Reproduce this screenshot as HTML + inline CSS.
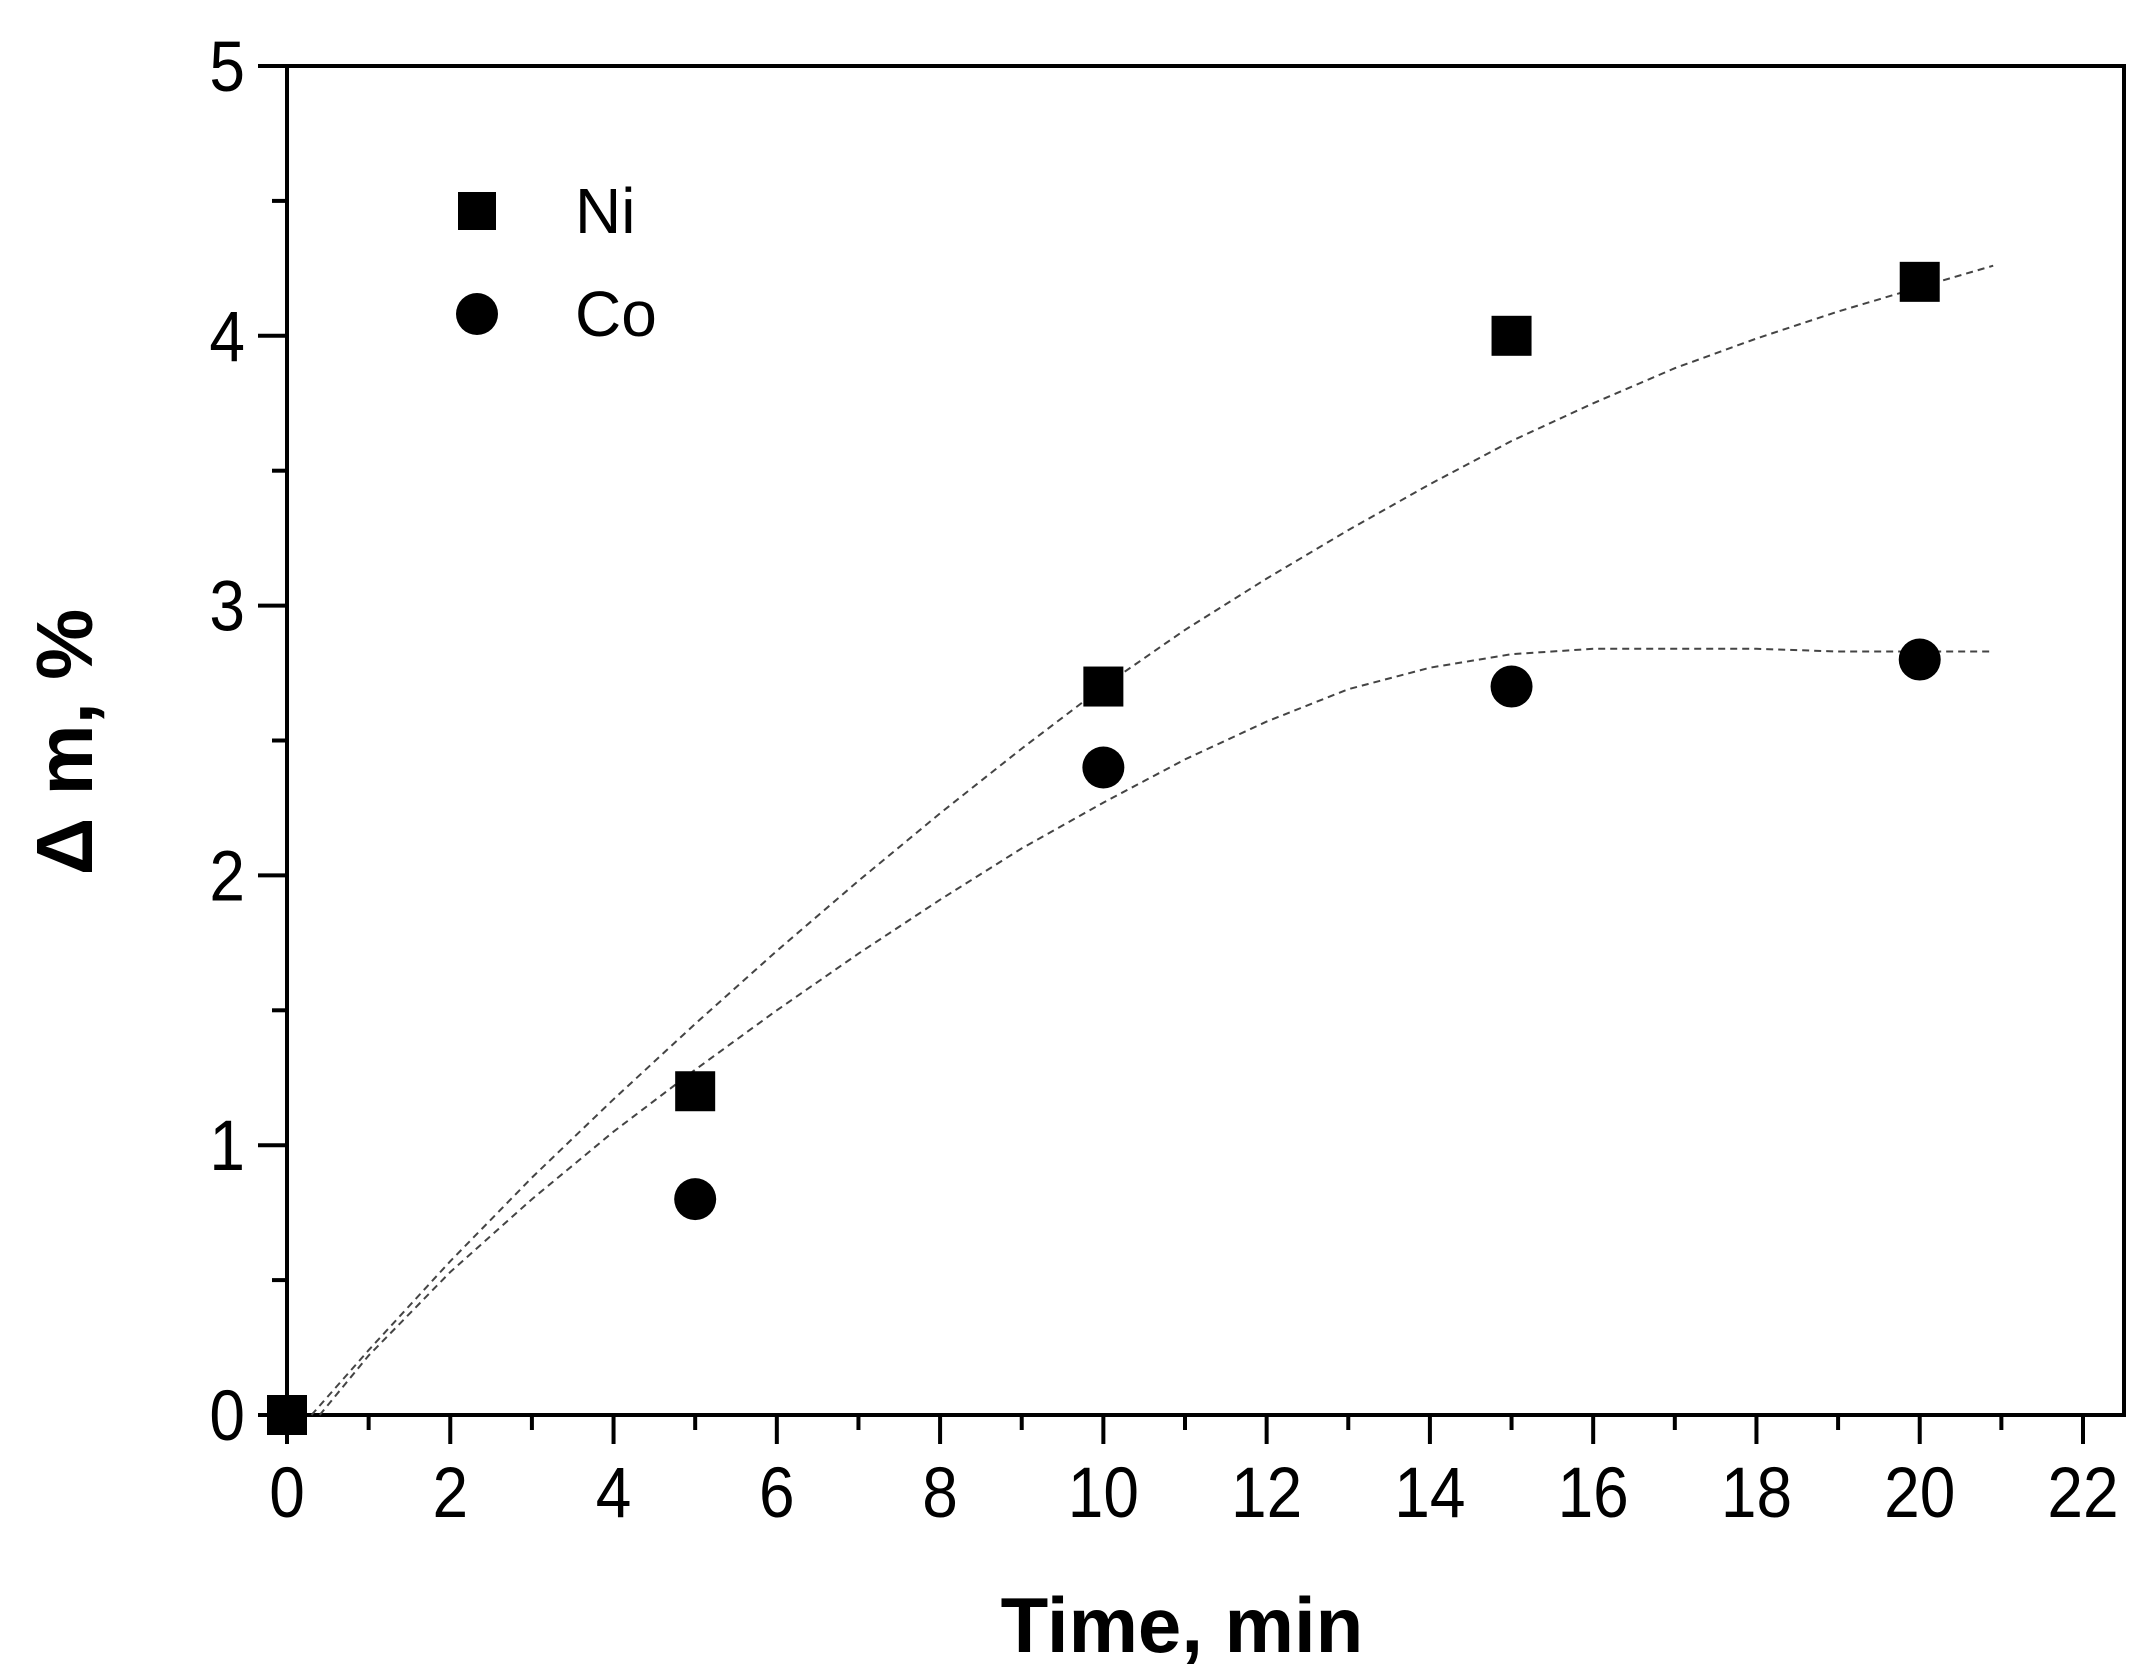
<!DOCTYPE html>
<html><head><meta charset="utf-8"><style>
html,body{margin:0;padding:0;background:#fff}
svg{display:block}
text{font-family:"Liberation Sans",Arial,sans-serif;fill:#000}
</style></head><body>
<svg id="chart" width="2147" height="1679" viewBox="0 0 2147 1679" xmlns="http://www.w3.org/2000/svg">
<g id="plot"></g>
</svg>
<script>
const xTicks=[0,2,4,6,8,10,12,14,16,18,20,22];
const yTicks=[0,1,2,3,4,5];
const niTime=[0,5,10,15,20];
const niVals=[0,1.2,2.7,4.0,4.2];
const coTime=[5,10,15,20];
const coVals=[0.8,2.4,2.7,2.8];
const niFitX=[0.3,1,2,3,4,5,6,7,8,9,10,11,12,13,14,15,16,17,18,19,20,20.9];
const niFitY=[0,0.24,0.57,0.88,1.17,1.45,1.72,1.98,2.23,2.47,2.7,2.91,3.1,3.28,3.45,3.61,3.75,3.88,3.99,4.09,4.18,4.26];
const coFitX=[0.4,1,2,3,4,5,6,7,8,9,10,11,12,13,14,15,16,17,18,19,20,20.9];
const coFitY=[0,0.22,0.53,0.8,1.05,1.28,1.5,1.71,1.91,2.1,2.27,2.43,2.57,2.69,2.77,2.82,2.84,2.84,2.84,2.83,2.83,2.83];

const L=287,R=2124,T=66,B=1415;
const X=v=>L+v*(2083-L)/22;
const Y=v=>B-v*(B-T)/5;
const NS="http://www.w3.org/2000/svg";
const g=document.getElementById('plot');
function mk(tag,attrs){const e=document.createElementNS(NS,tag);for(const k in attrs)e.setAttribute(k,attrs[k]);g.appendChild(e);return e;}

const fr=mk('rect',{x:L,y:T,width:R-L,height:B-T,fill:'none',stroke:'#000','stroke-width':4});



for(let v=0;v<=22;v+=1){
  const major=v%2===0;
  const t=mk('line',{x1:X(v),x2:X(v),y1:B,y2:B+(major?29:15),stroke:'#000','stroke-width':4});
  
  
}
xTicks.forEach(v=>{
  const t=mk('text',{x:X(v),y:B+102,'font-size':64,'text-anchor':'middle',transform:`translate(${X(v)},${B+102}) scale(1,1.12) translate(${-X(v)},${-(B+102)})`});
  t.textContent=v;
  
  
});
for(let v=0;v<=5.001;v+=0.5){
  const major=Math.abs(v-Math.round(v))<1e-6;
  const t=mk('line',{x1:L-(major?29:15),x2:L,y1:Y(v),y2:Y(v),stroke:'#000','stroke-width':4});
  
  
}
yTicks.forEach(v=>{
  const yy=Y(v)+25;
  const t=mk('text',{x:L-42,y:yy,'font-size':64,'text-anchor':'end',transform:`translate(0,${yy}) scale(1,1.12) translate(0,${-yy})`});
  t.textContent=v;
  
  
});
const xt=mk('text',{x:1182,y:1652,'font-size':78,'font-weight':'bold','text-anchor':'middle'});
xt.textContent='Time, min';


const yt=mk('text',{x:0,y:0,'font-size':80,'font-weight':'bold','text-anchor':'middle',transform:'translate(92,742) rotate(-90)'});
yt.textContent='Δ m, %';



function fit(xs,ys,name){
  const d=xs.map((x,i)=>(i?'L':'M')+X(x).toFixed(1)+','+Y(ys[i]).toFixed(1)).join(' ');
  const p=mk('path',{d:d,fill:'none',stroke:'#444','stroke-width':2,'stroke-dasharray':'7,5'});
  
  
}
fit(niFitX,niFitY,'ni-fit-curve');
fit(coFitX,coFitY,'co-fit-curve');

niTime.forEach((t,i)=>{
  const m=mk('rect',{x:X(t)-20,y:Y(niVals[i])-20,width:40,height:40,fill:'#000'});
  
  
});
coTime.forEach((t,i)=>{
  const m=mk('circle',{cx:X(t),cy:Y(coVals[i]),r:21,fill:'#000'});
  
  
});

const ls=mk('rect',{x:458,y:192,width:38,height:38,fill:'#000'});


const ln=mk('text',{x:575,y:233,'font-size':64});
ln.textContent='Ni';


const lc=mk('circle',{cx:477,cy:314,r:21,fill:'#000'});


const lcn=mk('text',{x:575,y:336,'font-size':64});
lcn.textContent='Co';


</script>
</body></html>
